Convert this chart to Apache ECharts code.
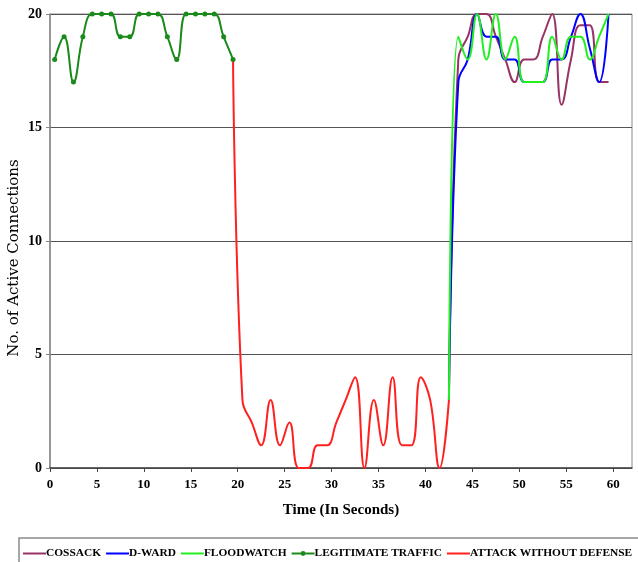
<!DOCTYPE html>
<html>
<head>
<meta charset="utf-8">
<title>No. of Active Connections over Time</title>
<script src="https://cdn.jsdelivr.net/npm/echarts@6/dist/echarts.min.js"></script>
<style>
  html, body { margin: 0; padding: 0; background: #fff; }
  #chart { width: 638px; height: 562px; }
</style>
</head>
<body>
<div id="chart"></div>
<script>
// Sample times (seconds)
const legitTime = [0.5, 1.5, 2.5, 3.5, 4.5, 5.5, 6.5, 7.5, 8.5, 9.5, 10.5, 11.5, 12.5, 13.5, 14.5, 15.5, 16.5, 17.5, 18.5, 19.5];
const attackTime = [19.5, 20.5, 21.5, 22.5, 23.5, 24.5, 25.5, 26.5, 27.5, 28.5, 29.5, 30.5, 31.5, 32.5, 33.5, 34.5, 35.5, 36.5, 37.5, 38.5, 39.5, 40.5, 41.5, 42.5];
const defenseTime = [42.5, 43.5, 44.5, 45.5, 46.5, 47.5, 48.5, 49.5, 50.5, 51.5, 52.5, 53.5, 54.5, 55.5, 56.5, 57.5, 58.5, 59.5];

// Active connections per series
const legitimateTraffic = [18, 19, 17, 19, 20, 20, 20, 19, 19, 20, 20, 20, 19, 18, 20, 20, 20, 20, 19, 18];
const attackWithoutDefense = [18, 3, 2, 1, 3, 1, 2, 0, 0, 1, 1, 2, 3, 4, 0, 3, 1, 4, 1, 1, 4, 3, 0, 3];
const cossack = [3, 18, 19, 20, 20, 19, 18, 17, 18, 18, 19, 20, 16, 18, 19.5, 19.5, 17, 17];
const dward = [3, 17, 18, 20, 19, 19, 18, 18, 17, 17, 17, 18, 18, 19, 20, 18.5, 17, 20];
const floodwatch = [3, 19, 18, 20, 18, 20, 18, 19, 17, 17, 17, 19, 18, 19, 19, 18, 19, 20];

const seriesNames = ['COSSACK', 'D-WARD', 'FLOODWATCH', 'LEGITIMATE TRAFFIC', 'ATTACK WITHOUT DEFENSE'];
const xTickValues = [0, 5, 10, 15, 20, 25, 30, 35, 40, 45, 50, 55, 60];

function pairs(xs, ys) {
  return xs.map((x, i) => [x, ys[i]]);
}

const serif = '"Liberation Serif", "Times New Roman", serif';

function lineSeries(name, xs, ys, color, withMarkers) {
  return {
    name: name,
    type: 'line',
    data: pairs(xs, ys),
    smooth: 0.45,
    symbol: withMarkers ? 'circle' : 'none',
    symbolSize: withMarkers ? 5 : 0,
    showSymbol: !!withMarkers,
    lineStyle: { color: color, width: 2 },
    itemStyle: { color: color },
    emphasis: { disabled: true },
    animation: false
  };
}

// Legend entries: only the legitimate-traffic key shows its marker dot
const legendData = seriesNames.map(name => (
  name === 'LEGITIMATE TRAFFIC'
    ? { name: name }
    : { name: name, itemStyle: { opacity: 0 } }
));

const chart = echarts.init(document.getElementById('chart'), null, { renderer: 'canvas' });

chart.setOption({
  backgroundColor: '#ffffff',
  animation: false,
  grid: {
    left: 50, right: 6, top: 14, bottom: 94,
    show: true, borderColor: '#8a8a8a', borderWidth: 1
  },
  xAxis: {
    type: 'value',
    min: 0, max: 62,
    name: 'Time (In Seconds)',
    nameLocation: 'middle',
    nameGap: 35,
    nameTextStyle: { fontFamily: serif, fontWeight: 'bold', fontSize: 15, color: '#000' },
    axisLine: { show: true, lineStyle: { color: '#444', width: 1.5 } },
    axisTick: { show: true, length: 4, customValues: xTickValues, lineStyle: { color: '#444', width: 1 } },
    axisLabel: { customValues: xTickValues, margin: 10, fontFamily: serif, fontWeight: 'bold', fontSize: 13, color: '#000' },
    splitLine: { show: false }
  },
  yAxis: {
    type: 'value',
    min: 0, max: 20, interval: 5,
    axisLine: { show: true, lineStyle: { color: '#888', width: 1.5 } },
    axisTick: { show: true, length: 4, lineStyle: { color: '#888', width: 1 } },
    axisLabel: { margin: 8, fontFamily: serif, fontWeight: 'bold', fontSize: 14, color: '#000' },
    splitLine: { show: true, lineStyle: { color: '#555', width: 1.2 } }
  },
  legend: {
    data: legendData,
    left: 19, top: 538,
    width: 700,
    orient: 'horizontal',
    padding: [10, 30, 8, 3],
    itemGap: 4,
    itemWidth: 23,
    itemHeight: 6,
    borderColor: '#8a8a8a',
    borderWidth: 1.5,
    textStyle: { fontFamily: serif, fontWeight: 'bold', fontSize: 11.4, color: '#000', padding: [0, 0, 0, -5] },
    selectedMode: false
  },
  graphic: [{
    type: 'text',
    x: 14, y: 258,
    rotation: Math.PI / 2,
    style: {
      text: 'No. of Active Connections',
      font: '15px "DejaVu Serif", serif',
      fill: '#000',
      align: 'center',
      verticalAlign: 'middle'
    }
  }],
  series: [
    lineSeries('COSSACK', defenseTime, cossack, '#993366', false),
    lineSeries('D-WARD', defenseTime, dward, '#0000ff', false),
    lineSeries('FLOODWATCH', defenseTime, floodwatch, '#22ee22', false),
    lineSeries('LEGITIMATE TRAFFIC', legitTime, legitimateTraffic, '#1a8a1a', true),
    lineSeries('ATTACK WITHOUT DEFENSE', attackTime, attackWithoutDefense, '#ff2020', false)
  ]
});
</script>
</body>
</html>
